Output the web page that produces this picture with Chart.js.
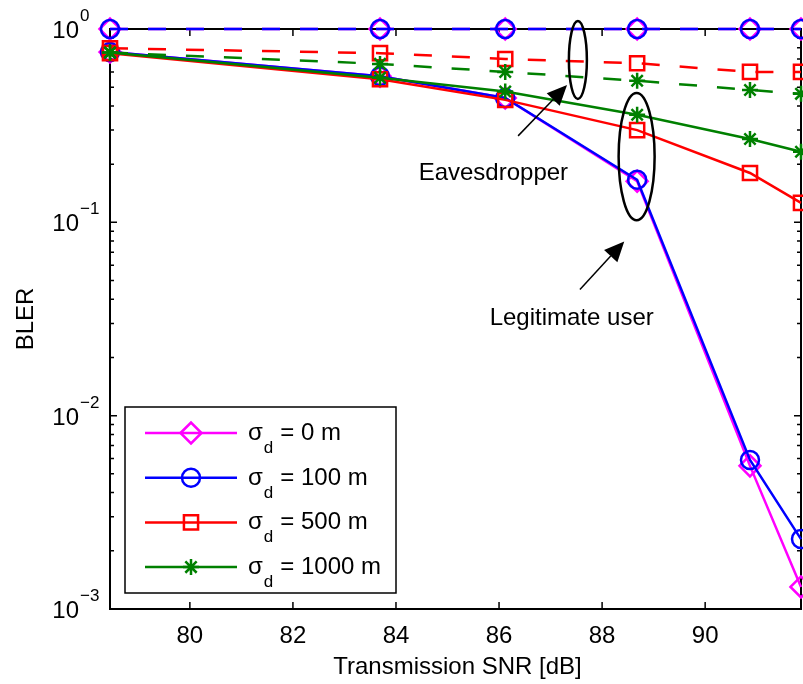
<!DOCTYPE html>
<html>
<head>
<meta charset="utf-8">
<script src="https://cdn.jsdelivr.net/npm/chart.js@4.4.1/dist/chart.umd.min.js"></script>
<style>
  html, body { margin: 0; padding: 0; background: #fff; }
  #wrap { width: 803px; height: 684px; }
</style>
</head>
<body>
<div id="wrap"><canvas id="bler" width="803" height="684"></canvas></div>
<script>
// Data
const snr = [78.45, 83.69, 86.12, 88.68, 90.87, 91.86];

// legitimate user (solid)
const legit0 = [0.76, 0.57, 0.44, 0.163, 0.0055, 0.0013];
const legit100 = [0.76, 0.57, 0.44, 0.166, 0.0059, 0.0023];
const legit500 = [0.75, 0.55, 0.43, 0.30, 0.18, 0.126];
const legit1000 = [0.755, 0.56, 0.475, 0.36, 0.27, 0.232];

// eavesdropper (dashed)
const eve0 = [1, 1, 1, 1, 1, 1];
const eve100 = [1, 1, 1, 1, 1, 1];
const eve500 = [0.795, 0.75, 0.70, 0.665, 0.60, 0.60];
const eve1000 = [0.755, 0.66, 0.60, 0.54, 0.484, 0.462];

const xTicks = [80, 82, 84, 86, 88, 90];
const yTicks = [1, 0.1, 0.01, 0.001];
const yExponents = ['0', '\u22121', '\u22122', '\u22123'];
const legendLabels = ['0 m', '100 m', '500 m', '1000 m'];

const FONT = '"Liberation Sans", Arial, Helvetica, sans-serif';

function series(label, values, color, style, radius, dashed, order) {
  return {
    label: label,
    data: snr.map((x, i) => ({ x: x, y: values[i] })),
    borderColor: color,
    backgroundColor: 'rgba(0,0,0,0)',
    borderWidth: 2.5,
    borderDash: dashed ? [18, 20] : [],
    pointStyle: style,
    pointRadius: radius,
    pointHoverRadius: radius,
    pointBorderWidth: 2.5,
    pointBorderColor: color,
    pointBackgroundColor: 'rgba(0,0,0,0)',
    tension: 0,
    fill: false,
    clip: false,
    order: order
  };
}

const styles = [
  { color: '#ff00ff', style: 'rectRot', radius: 10.5 },
  { color: '#0000ff', style: 'circle', radius: 9 },
  { color: '#ff0000', style: 'rect', radius: 10 },
  { color: '#008000', style: 'star', radius: 8 }
];

const datasets = [
  series('eve 0', eve0, styles[0].color, styles[0].style, styles[0].radius, true, 7),
  series('legit 0', legit0, styles[0].color, styles[0].style, styles[0].radius, false, 6),
  series('eve 100', eve100, styles[1].color, styles[1].style, styles[1].radius, true, 5),
  series('legit 100', legit100, styles[1].color, styles[1].style, styles[1].radius, false, 4),
  series('eve 500', eve500, styles[2].color, styles[2].style, styles[2].radius, true, 3),
  series('legit 500', legit500, styles[2].color, styles[2].style, styles[2].radius, false, 2),
  series('eve 1000', eve1000, styles[3].color, styles[3].style, styles[3].radius, true, 1),
  series('legit 1000', legit1000, styles[3].color, styles[3].style, styles[3].radius, false, 0)
];

function drawArrow(ctx, x1, y1, x2, y2) {
  const ang = Math.atan2(y2 - y1, x2 - x1);
  const len = 20, half = 9;
  const bx = x2 - len * Math.cos(ang), by = y2 - len * Math.sin(ang);
  ctx.beginPath();
  ctx.moveTo(x1, y1);
  ctx.lineTo(bx, by);
  ctx.stroke();
  ctx.beginPath();
  ctx.moveTo(x2, y2);
  ctx.lineTo(bx + half * Math.sin(ang), by - half * Math.cos(ang));
  ctx.lineTo(bx - half * Math.sin(ang), by + half * Math.cos(ang));
  ctx.closePath();
  ctx.fill();
}

// axes box, inward ticks and tick labels (MATLAB look)
const axesDecor = {
  id: 'axesDecor',
  beforeDatasetsDraw(chart) {
    const { ctx, chartArea: a, scales: { x, y } } = chart;
    ctx.save();
    ctx.strokeStyle = '#000';
    ctx.lineWidth = 1.5;
    ctx.beginPath();
    xTicks.forEach(v => {
      const px = x.getPixelForValue(v);
      ctx.moveTo(px, a.bottom); ctx.lineTo(px, a.bottom - 7);
      ctx.moveTo(px, a.top); ctx.lineTo(px, a.top + 7);
    });
    yTicks.forEach(v => {
      const py = y.getPixelForValue(v);
      ctx.moveTo(a.left, py); ctx.lineTo(a.left + 7, py);
      ctx.moveTo(a.right, py); ctx.lineTo(a.right - 7, py);
    });
    yTicks.slice(1).forEach(d => {
      for (let k = 2; k <= 9; k++) {
        const py = y.getPixelForValue(d * k);
        ctx.moveTo(a.left, py); ctx.lineTo(a.left + 4, py);
        ctx.moveTo(a.right, py); ctx.lineTo(a.right - 4, py);
      }
    });
    ctx.stroke();
    ctx.lineWidth = 2;
    ctx.strokeRect(a.left, a.top, a.right - a.left, a.bottom - a.top);

    ctx.fillStyle = '#000';
    ctx.font = '24px ' + FONT;
    ctx.textAlign = 'center';
    ctx.textBaseline = 'alphabetic';
    xTicks.forEach(v => ctx.fillText(String(v), x.getPixelForValue(v), a.bottom + 34));

    yTicks.forEach((v, i) => {
      const py = y.getPixelForValue(v);
      ctx.font = '24px ' + FONT;
      ctx.textAlign = 'right';
      ctx.fillText('10', a.left - 31, py + 9);
      ctx.font = '17px ' + FONT;
      ctx.textAlign = 'left';
      ctx.fillText(yExponents[i], a.left - 30, py - 8);
    });

    ctx.font = '24px ' + FONT;
    ctx.textAlign = 'center';
    ctx.fillText('Transmission SNR [dB]', (a.left + a.right) / 2 + 2, a.bottom + 65);
    ctx.save();
    ctx.translate(33, (a.top + a.bottom) / 2);
    ctx.rotate(-Math.PI / 2);
    ctx.fillText('BLER', 0, 0);
    ctx.restore();
    ctx.restore();
  },
  afterDraw(chart) {
    const { ctx, chartArea: a, scales: { x, y } } = chart;
    ctx.save();
    ctx.strokeStyle = '#000';
    ctx.fillStyle = '#000';

    // ellipses
    ctx.lineWidth = 2.5;
    const ell = (cx, top, bottom, rx) => {
      const px = x.getPixelForValue(cx);
      const t = y.getPixelForValue(top), b = y.getPixelForValue(bottom);
      ctx.beginPath();
      ctx.ellipse(px, (t + b) / 2, rx, (b - t) / 2, 0, 0, Math.PI * 2);
      ctx.stroke();
    };
    ell(87.53, 1.1, 0.435, 9);
    ell(88.67, 0.467, 0.1026, 18);

    // arrows
    ctx.lineWidth = 1.5;
    drawArrow(ctx, x.getPixelForValue(86.37), y.getPixelForValue(0.28),
      x.getPixelForValue(87.32), y.getPixelForValue(0.513));
    drawArrow(ctx, x.getPixelForValue(87.57), y.getPixelForValue(0.0449),
      x.getPixelForValue(88.43), y.getPixelForValue(0.0797));

    ctx.font = '24px ' + FONT;
    ctx.textAlign = 'center';
    ctx.textBaseline = 'alphabetic';
    ctx.fillText('Eavesdropper', x.getPixelForValue(85.89), y.getPixelForValue(0.166));
    ctx.fillText('Legitimate user', x.getPixelForValue(87.41), y.getPixelForValue(0.0295));

    // legend
    const lx = a.left + 15, lw = 271, lh = 186, ly = a.bottom - 16 - lh;
    ctx.fillStyle = '#fff';
    ctx.fillRect(lx, ly, lw, lh);
    ctx.strokeStyle = '#000';
    ctx.lineWidth = 1.5;
    ctx.strokeRect(lx, ly, lw, lh);
    styles.forEach((s, i) => {
      const ry = ly + 26 + i * 44.7;
      ctx.strokeStyle = s.color;
      ctx.lineWidth = 2.5;
      ctx.beginPath();
      ctx.moveTo(lx + 20, ry);
      ctx.lineTo(lx + 112, ry);
      ctx.stroke();
      ctx.fillStyle = 'rgba(0,0,0,0)';
      Chart.helpers.drawPoint(ctx, { pointStyle: s.style, radius: s.radius, borderWidth: 2.5, rotation: 0 }, lx + 66, ry);
      ctx.fillStyle = '#000';
      ctx.textAlign = 'left';
      let tx = lx + 123;
      ctx.font = '24px ' + FONT;
      ctx.fillText('\u03c3', tx, ry + 7);
      tx += ctx.measureText('\u03c3').width + 1;
      ctx.font = '17px ' + FONT;
      ctx.fillText('d', tx, ry + 20);
      tx += ctx.measureText('d').width + 7;
      ctx.font = '24px ' + FONT;
      ctx.fillText('= ' + legendLabels[i], tx, ry + 7);
    });
    ctx.restore();
  }
};

new Chart(document.getElementById('bler'), {
  type: 'line',
  data: { datasets: datasets },
  options: {
    responsive: false,
    animation: false,
    devicePixelRatio: 1,
    layout: { autoPadding: false, padding: { left: 110, right: 2, top: 29, bottom: 75 } },
    plugins: { legend: { display: false }, tooltip: { enabled: false } },
    scales: {
      x: { type: 'linear', min: snr[0], max: snr[snr.length - 1], display: false },
      y: { type: 'logarithmic', min: 0.001, max: 1, display: false }
    }
  },
  plugins: [axesDecor]
});
</script>
</body>
</html>
